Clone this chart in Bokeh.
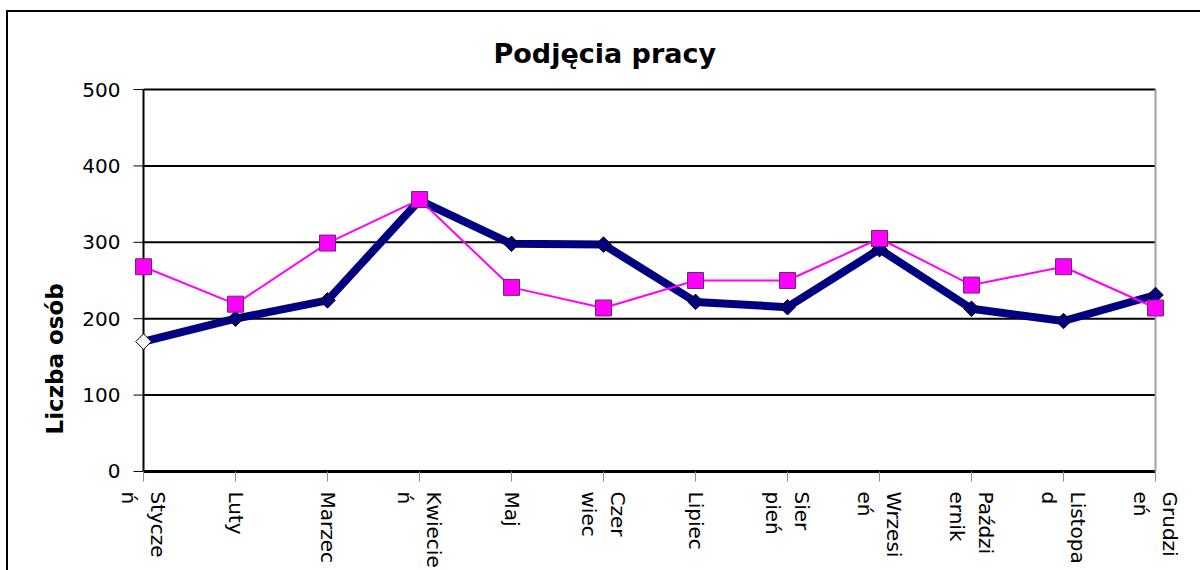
import math
from bokeh.plotting import figure
from bokeh.models import Range1d, FixedTicker, Title
from bokeh.embed import file_html
from bokeh.resources import INLINE

# ---- data ----
months = ["Styczeń", "Luty", "Marzec", "Kwiecień", "Maj", "Czerwiec",
          "Lipiec", "Sierpień", "Wrzesień", "Październik", "Listopad", "Grudzień"]
month_labels = ["Stycze\nń", "Luty", "Marzec", "Kwiecie\nń", "Maj", "Czer\nwiec",
                "Lipiec", "Sier\npień", "Wrzesi\neń", "Paździ\nernik", "Listopa\nd", "Grudzi\neń"]
series_navy = [170, 200, 224, 355, 298, 297, 222, 215, 291, 213, 197, 231]
series_magenta = [268, 219, 299, 356, 241, 214, 250, 250, 305, 244, 268, 214]
y_ticks = [0, 100, 200, 300, 400, 500]
title_text = "Podjęcia pracy"
y_label_text = "Liczba  osób"

idx = list(range(len(months)))
last = idx[-1]

FONT = "DejaVu Sans"
PX_PER_X = 92.0          # pixels per category step
TICK_LEN_X = 10 / PX_PER_X

p = figure(width=1200, height=570,
           x_range=Range1d(-0.25, last + 0.25),
           y_range=Range1d(-4, 504),
           output_backend="svg", toolbar_location=None,
           min_border_left=120, min_border_right=22,
           min_border_top=86, min_border_bottom=96)
p.outline_line_color = None
p.background_fill_color = "white"
p.border_fill_color = None
p.styles = {"box-shadow": "inset 6px 10px 0 0 white, inset 8px 12px 0 0 black",
            "background-color": "white"}
p.xgrid.visible = False
p.ygrid.visible = False

# title
p.title.text = title_text
p.title.align = "left"
p.title.offset = 373
p.title.text_font = FONT
p.title.text_font_style = "bold"
p.title.text_font_size = "27px"
p.title.text_color = "black"
p.title.standoff = 35

# y axis label as a left-side title
p.add_layout(Title(text=y_label_text, align="left", offset=40, text_font=FONT,
                   text_font_style="bold", text_font_size="23px", text_color="black",
                   standoff=24), "left")

# gridlines between first and last category
p.segment(x0=[0] * (len(y_ticks) - 1), x1=[last] * (len(y_ticks) - 1),
          y0=y_ticks[1:], y1=y_ticks[1:], line_color="black", line_width=2)
# x axis line at 0
p.segment(x0=[0], x1=[last], y0=[0], y1=[0], line_color="black", line_width=3)
# right edge of plot area (gray)
p.segment(x0=[last], x1=[last], y0=[0], y1=[y_ticks[-1]], line_color="#a0a0a0", line_width=2)
# y axis line and its outward ticks at the first category
p.segment(x0=[0], x1=[0], y0=[0], y1=[y_ticks[-1]], line_color="black", line_width=2)
p.segment(x0=[-TICK_LEN_X] * len(y_ticks), x1=[0] * len(y_ticks),
          y0=y_ticks, y1=y_ticks, line_color="black", line_width=1)

# y axis (labels only)
p.yaxis.ticker = FixedTicker(ticks=y_ticks)
p.yaxis.axis_line_color = None
p.yaxis.major_tick_line_color = None
p.yaxis.major_tick_out = 0
p.yaxis.major_tick_in = 0
p.yaxis.minor_tick_line_color = None
p.yaxis.major_label_standoff = 0
p.yaxis.major_label_text_font = FONT
p.yaxis.major_label_text_font_size = "20px"
p.yaxis.major_label_text_color = "black"

# x axis
p.xaxis.ticker = FixedTicker(ticks=idx)
p.xaxis.major_label_overrides = {i: lab for i, lab in zip(idx, month_labels)}
p.xaxis.major_label_orientation = -math.pi / 2
p.xaxis.axis_line_color = None
p.xaxis.major_tick_line_color = "#909090"
p.xaxis.major_tick_line_width = 1
p.xaxis.major_tick_out = 7
p.xaxis.major_tick_in = 3
p.xaxis.minor_tick_line_color = None
p.xaxis.major_label_standoff = 10
p.xaxis.major_label_text_font = FONT
p.xaxis.major_label_text_font_size = "20px"
p.xaxis.major_label_text_color = "black"

# navy series
p.line(idx, series_navy, line_color="#000080", line_width=8, line_join="round")
navy_fill = ["white"] + ["#000080"] * (len(idx) - 1)
p.scatter(idx, series_navy, marker="square", angle=math.pi / 4, size=11,
          fill_color=navy_fill, line_color="black", line_width=1)

# magenta series
p.line(idx, series_magenta, line_color="#FF00FF", line_width=2)
p.scatter(idx, series_magenta, marker="square", size=16,
          fill_color="#FF00FF", line_color="#6a2a6a", line_width=1)

open("out.html", "w").write(file_html(p, INLINE))
